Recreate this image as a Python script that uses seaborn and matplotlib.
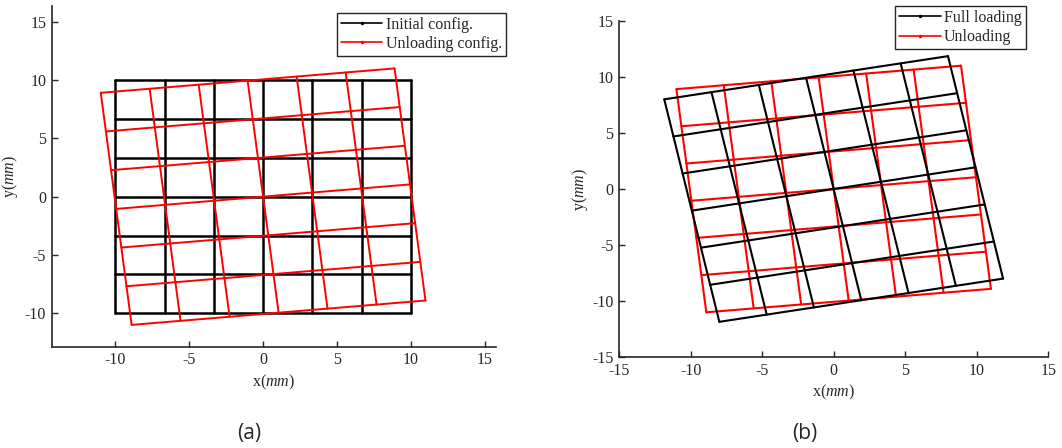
# Grid deformation plots: initial / unloading / full loading configurations

import pandas as pd
import seaborn as sns
import matplotlib.pyplot as plt
from matplotlib.lines import Line2D

# initial (undeformed) grid node positions, mm
init_grid = [-10, -6.67, -3.33, 0, 3.33, 6.67, 10]

# unloading config, boundary nodes
unl_left_x = [-8.90, -9.25, -9.60, -9.95, -10.29, -10.64, -10.99]
unl_left_y = [-10.99, -7.68, -4.36, -1.05, 2.27, 5.59, 8.90]
unl_right_x = [10.99, 10.64, 10.29, 9.95, 9.60, 9.25, 8.90]
unl_right_y = [-8.90, -5.59, -2.27, 1.05, 4.36, 7.68, 10.99]
unl_bot_x = [-8.90, -5.59, -2.27, 1.05, 4.36, 7.68, 10.99]
unl_bot_y = [-10.99, -10.64, -10.29, -9.95, -9.60, -9.25, -8.90]
unl_top_x = [-10.99, -7.68, -4.36, -1.05, 2.27, 5.59, 8.90]
unl_top_y = [8.90, 9.25, 9.60, 9.95, 10.29, 10.64, 10.99]

# full loading config, boundary nodes
full_left_x = [-7.99, -8.63, -9.27, -9.91, -10.56, -11.20, -11.84]
full_left_y = [-11.84, -8.54, -5.23, -1.93, 1.38, 4.68, 7.99]
full_right_x = [11.84, 11.20, 10.56, 9.91, 9.27, 8.63, 7.99]
full_right_y = [-7.99, -4.68, -1.38, 1.93, 5.23, 8.54, 11.84]
full_bot_x = [-7.99, -4.68, -1.38, 1.93, 5.23, 8.54, 11.84]
full_bot_y = [-11.84, -11.20, -10.56, -9.91, -9.27, -8.63, -7.99]
full_top_x = [-11.84, -8.54, -5.23, -1.93, 1.38, 4.68, 7.99]
full_top_y = [7.99, 8.63, 9.27, 9.91, 10.56, 11.20, 11.84]

ticks = [-15, -10, -5, 0, 5, 10, 15]


def grid_lines(lx, ly, rx, ry, bx, by, tx, ty, name):
    rows = []
    for j in range(len(lx)):
        rows.append(dict(x=lx[j], y=ly[j], line='h%d' % j, config=name))
        rows.append(dict(x=rx[j], y=ry[j], line='h%d' % j, config=name))
    for i in range(len(bx)):
        rows.append(dict(x=bx[i], y=by[i], line='v%d' % i, config=name))
        rows.append(dict(x=tx[i], y=ty[i], line='v%d' % i, config=name))
    return pd.DataFrame(rows)


n = len(init_grid)
init_df = grid_lines([-10] * n, init_grid, [10] * n, init_grid,
                     init_grid, [-10] * n, init_grid, [10] * n, 'init')
unl_df = grid_lines(unl_left_x, unl_left_y, unl_right_x, unl_right_y,
                    unl_bot_x, unl_bot_y, unl_top_x, unl_top_y, 'unload')
full_df = grid_lines(full_left_x, full_left_y, full_right_x, full_right_y,
                     full_bot_x, full_bot_y, full_top_x, full_top_y, 'full')

sns.set_style('white')
plt.rcParams['font.family'] = ['Liberation Serif', 'DejaVu Serif']
plt.rcParams['mathtext.fontset'] = 'custom'
plt.rcParams['mathtext.rm'] = 'Liberation Serif'
plt.rcParams['mathtext.it'] = 'Liberation Serif:italic'
plt.rcParams['axes.unicode_minus'] = False

dark = '#262626'
fs = 11.5
fig = plt.figure(figsize=(10.62, 4.48), dpi=100)
ax1 = fig.add_axes([0.0487, 0.2261, 0.4184, 0.7605])
ax2 = fig.add_axes([0.5829, 0.2025, 0.4042, 0.7513])


def draw(ax, df, color, lw, z):
    sns.lineplot(data=df, x='x', y='y', units='line', estimator=None, sort=False,
                 color=color, linewidth=lw, zorder=z, ax=ax, legend=False)


draw(ax1, init_df, 'black', 1.8, 2)
draw(ax1, unl_df, 'red', 1.4, 3)
draw(ax2, unl_df, 'red', 1.5, 2)
draw(ax2, full_df, 'black', 1.5, 3)

ax1.set_xlim(-14.31, 15.77)
ax1.set_ylim(-12.86, 16.34)
ax1.set_xticks(ticks[1:])
ax1.set_yticks(ticks[1:])
ax2.set_xlim(-15, 15)
ax2.set_ylim(-15, 15)
ax2.set_xticks(ticks)
ax2.set_yticks(ticks)

for ax in (ax1, ax2):
    sns.despine(ax=ax)
    for s in ('left', 'bottom'):
        ax.spines[s].set_color(dark)
        ax.spines[s].set_linewidth(1.2)
    ax.tick_params(direction='in', length=4, width=1, color=dark,
                   labelcolor=dark, labelsize=fs, pad=4, left=True, bottom=True)
    ax.set_xlabel(r'x($\mathit{mm}$)', fontsize=fs, color=dark, labelpad=3)
    ax.set_ylabel(r'y($\mathit{mm}$)', fontsize=fs, color=dark)
ax1.yaxis.set_label_coords(-0.071, 0.5)
ax2.yaxis.set_label_coords(-0.068, 0.5)


def legend(ax, labels, colors, anchor):
    handles = [Line2D([], [], color=c, lw=1.2, marker='.', markersize=3) for c in colors]
    leg = ax.legend(handles, labels, loc='upper right', bbox_to_anchor=anchor,
                    bbox_transform=fig.transFigure, borderaxespad=0, fontsize=fs,
                    handlelength=2.6, handletextpad=0.2, labelspacing=0.2,
                    borderpad=0.25, fancybox=False, framealpha=1)
    leg.get_frame().set_edgecolor(dark)
    leg.get_frame().set_linewidth(1.0)
    for t in leg.get_texts():
        t.set_color(dark)


legend(ax1, ['Initial config.', 'Unloading config.'], ['black', 'red'], (0.4762, 0.9717))
legend(ax2, ['Full loading', 'Unloading'], ['black', 'red'], (0.9658, 0.9866))

fig.text(249 / 1062, 1 - 433 / 448, '(a)', ha='center', va='center',
         fontsize=15, family=['Open Sans', 'DejaVu Sans'])
fig.text(805 / 1062, 1 - 433 / 448, '(b)', ha='center', va='center',
         fontsize=15, family=['Open Sans', 'DejaVu Sans'])

fig.savefig('out.png', dpi=100)
